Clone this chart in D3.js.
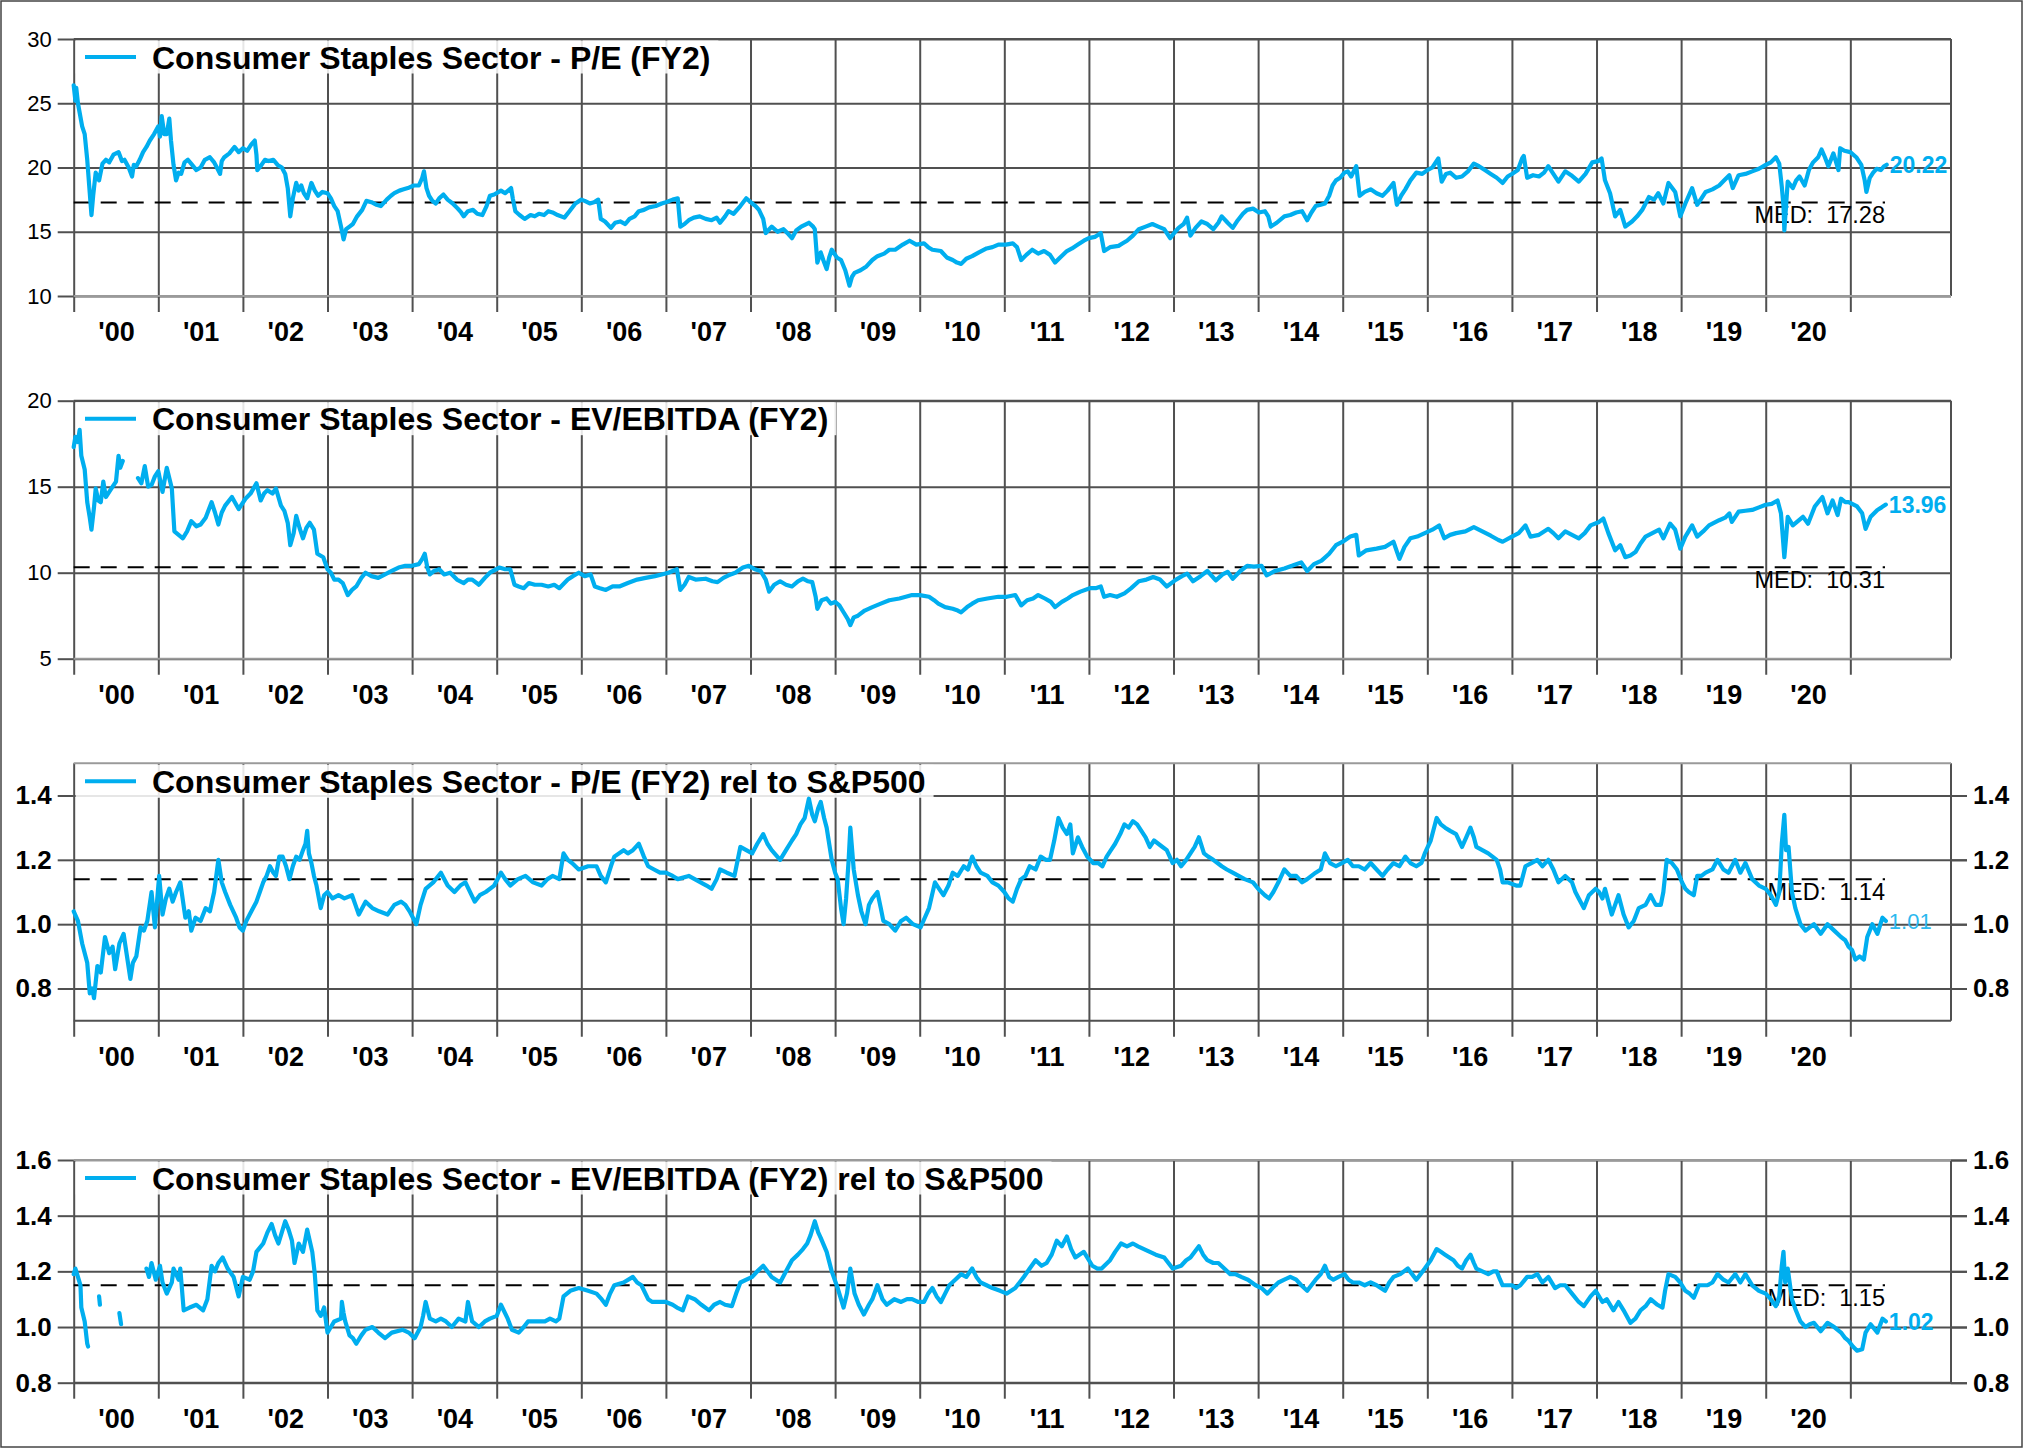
<!DOCTYPE html>
<html><head><meta charset="utf-8">
<script src="https://cdn.jsdelivr.net/npm/d3@7"></script>
<style>
body{margin:0;background:#fff}
svg{display:block}
text{font-family:"Liberation Sans",Arial,Helvetica,sans-serif}
</style>
</head><body>
<svg id="chart" width="2026" height="1448"></svg>
<script>
// ---------------- DATA ----------------
const yearLabels = ["'00","'01","'02","'03","'04","'05","'06","'07","'08","'09","'10","'11","'12","'13","'14","'15","'16","'17","'18","'19","'20"];
const titles = [
  "Consumer Staples Sector - P/E (FY2)",
  "Consumer Staples Sector - EV/EBITDA (FY2)",
  "Consumer Staples Sector - P/E (FY2) rel to S&P500",
  "Consumer Staples Sector - EV/EBITDA (FY2) rel to S&P500"
];
const medians = [17.28, 10.31, 1.14, 1.15];
const medianLabels = ["MED:  17.28","MED:  10.31","MED:  1.14","MED:  1.15"];
const lastLabels = ["20.22","13.96","1.01","1.02"];
const tickSets = [[10,15,20,25,30],[5,10,15,20],[0.8,1.0,1.2,1.4],[0.8,1.0,1.2,1.4,1.6]];

const peSeries = [[2000.00,26.4],[2000.02,25.2],[2000.03,26.2],[2000.05,25.0],[2000.10,23.2],[2000.13,22.6],[2000.16,20.6],[2000.19,18.0],[2000.21,16.3],[2000.23,17.8],[2000.26,19.6],[2000.30,19.0],[2000.34,20.3],[2000.38,20.6],[2000.42,20.4],[2000.47,21.0],[2000.53,21.2],[2000.57,20.5],[2000.60,20.6],[2000.65,20.0],[2000.69,19.3],[2000.71,20.2],[2000.74,20.1],[2000.78,20.6],[2000.82,21.2],[2000.86,21.6],[2000.90,22.1],[2000.95,22.6],[2001.00,23.2],[2001.02,22.4],[2001.04,24.0],[2001.07,22.6],[2001.10,22.6],[2001.13,23.8],[2001.15,22.1],[2001.18,20.2],[2001.21,19.0],[2001.24,19.6],[2001.27,19.5],[2001.31,20.4],[2001.35,20.6],[2001.40,20.2],[2001.45,19.8],[2001.50,20.0],[2001.55,20.6],[2001.61,20.8],[2001.66,20.4],[2001.70,19.9],[2001.73,19.5],[2001.75,20.5],[2001.78,20.8],[2001.84,21.1],[2001.90,21.6],[2001.95,21.2],[2002.00,21.5],[2002.05,21.3],[2002.10,21.8],[2002.14,22.1],[2002.16,21.0],[2002.17,19.8],[2002.22,20.2],[2002.26,20.6],[2002.30,20.5],[2002.36,20.6],[2002.41,20.2],[2002.46,20.0],[2002.50,19.5],[2002.53,18.4],[2002.56,16.2],[2002.59,17.6],[2002.63,18.8],[2002.66,18.2],[2002.69,18.6],[2002.72,18.0],[2002.76,17.6],[2002.81,18.8],[2002.85,18.2],[2002.89,17.8],[2002.94,18.1],[2003.00,18.0],[2003.04,17.6],[2003.08,17.0],[2003.12,16.6],[2003.16,15.4],[2003.19,14.4],[2003.22,15.2],[2003.26,15.4],[2003.30,15.6],[2003.35,16.2],[2003.41,16.7],[2003.46,17.4],[2003.52,17.3],[2003.58,17.1],[2003.63,17.0],[2003.70,17.5],[2003.75,17.8],[2003.79,18.0],[2003.85,18.2],[2003.90,18.3],[2003.95,18.4],[2004.02,18.6],[2004.08,18.6],[2004.12,19.2],[2004.14,19.7],[2004.17,18.4],[2004.20,17.8],[2004.24,17.4],[2004.28,17.2],[2004.32,17.6],[2004.37,17.9],[2004.42,17.5],[2004.48,17.2],[2004.54,16.8],[2004.58,16.5],[2004.61,16.2],[2004.66,16.6],[2004.72,16.7],[2004.77,16.4],[2004.83,16.3],[2004.88,17.0],[2004.92,17.8],[2004.97,17.9],[2005.05,18.2],[2005.10,18.0],[2005.17,18.4],[2005.19,17.6],[2005.22,16.6],[2005.27,16.3],[2005.33,16.0],[2005.40,16.3],[2005.45,16.2],[2005.50,16.4],[2005.56,16.3],[2005.61,16.6],[2005.66,16.5],[2005.72,16.3],[2005.80,16.1],[2005.86,16.6],[2005.93,17.2],[2006.00,17.5],[2006.04,17.4],[2006.10,17.2],[2006.15,17.3],[2006.20,17.5],[2006.23,16.0],[2006.28,15.8],[2006.35,15.3],[2006.40,15.7],[2006.46,15.8],[2006.52,15.6],[2006.57,16.0],[2006.63,16.2],[2006.68,16.6],[2006.74,16.7],[2006.80,16.9],[2006.88,17.0],[2006.95,17.2],[2007.00,17.3],[2007.08,17.5],[2007.14,17.6],[2007.17,15.4],[2007.22,15.6],[2007.27,15.9],[2007.33,16.1],[2007.40,16.2],[2007.47,16.0],[2007.54,15.9],[2007.60,16.1],[2007.64,15.7],[2007.70,16.2],[2007.74,16.6],[2007.80,16.4],[2007.88,17.0],[2007.95,17.6],[2008.02,17.2],[2008.06,17.0],[2008.10,16.7],[2008.15,16.0],[2008.18,14.9],[2008.25,15.4],[2008.32,15.0],[2008.39,15.2],[2008.45,14.8],[2008.49,14.5],[2008.54,15.1],[2008.60,15.4],[2008.69,15.7],[2008.74,15.4],[2008.76,15.2],[2008.79,12.6],[2008.83,13.4],[2008.86,12.8],[2008.90,12.1],[2008.93,13.0],[2008.96,13.6],[2009.02,13.0],[2009.07,12.8],[2009.12,12.0],[2009.17,10.8],[2009.20,11.5],[2009.23,11.8],[2009.30,12.0],[2009.37,12.3],[2009.44,12.8],[2009.50,13.1],[2009.58,13.3],[2009.64,13.6],[2009.71,13.6],[2009.80,14.0],[2009.88,14.3],[2009.96,14.0],[2010.05,14.1],[2010.10,13.8],[2010.15,13.6],[2010.25,13.5],[2010.32,13.0],[2010.39,12.8],[2010.44,12.6],[2010.49,12.5],[2010.55,12.9],[2010.62,13.1],[2010.70,13.4],[2010.79,13.7],[2010.86,13.8],[2010.93,14.0],[2011.02,14.0],[2011.10,14.1],[2011.15,13.8],[2011.20,12.8],[2011.26,13.2],[2011.33,13.6],[2011.40,13.3],[2011.47,13.5],[2011.54,13.2],[2011.60,12.6],[2011.66,13.0],[2011.74,13.5],[2011.80,13.7],[2011.87,14.0],[2011.94,14.3],[2012.00,14.5],[2012.07,14.6],[2012.14,14.9],[2012.18,13.5],[2012.25,13.8],[2012.35,13.9],[2012.40,14.1],[2012.45,14.3],[2012.52,14.7],[2012.59,15.2],[2012.67,15.4],[2012.75,15.6],[2012.82,15.4],[2012.89,15.2],[2012.96,14.5],[2013.02,15.0],[2013.06,15.3],[2013.12,15.6],[2013.16,16.1],[2013.20,14.7],[2013.26,15.3],[2013.33,15.8],[2013.40,15.6],[2013.47,15.2],[2013.53,15.7],[2013.57,16.2],[2013.64,15.7],[2013.70,15.3],[2013.76,15.9],[2013.82,16.4],[2013.87,16.7],[2013.94,16.8],[2014.01,16.5],[2014.08,16.6],[2014.12,16.2],[2014.15,15.4],[2014.22,15.7],[2014.31,16.2],[2014.38,16.3],[2014.45,16.5],[2014.52,16.6],[2014.58,15.9],[2014.63,16.5],[2014.68,17.0],[2014.74,17.1],[2014.79,17.2],[2014.84,17.8],[2014.88,18.6],[2014.92,19.0],[2014.97,19.2],[2015.02,19.6],[2015.06,19.7],[2015.10,19.3],[2015.16,20.1],[2015.20,17.8],[2015.26,18.1],[2015.33,18.3],[2015.40,18.0],[2015.47,17.8],[2015.53,18.2],[2015.60,18.8],[2015.64,17.1],[2015.69,17.8],[2015.74,18.3],[2015.80,19.0],[2015.87,19.6],[2015.94,19.5],[2016.00,19.8],[2016.06,20.0],[2016.13,20.7],[2016.17,18.9],[2016.22,19.5],[2016.27,19.6],[2016.34,19.2],[2016.41,19.3],[2016.48,19.7],[2016.55,20.3],[2016.61,20.1],[2016.68,19.8],[2016.75,19.5],[2016.82,19.2],[2016.89,18.8],[2016.95,19.3],[2017.00,19.5],[2017.07,19.8],[2017.12,20.7],[2017.14,20.9],[2017.18,19.2],[2017.25,19.4],[2017.32,19.3],[2017.38,19.6],[2017.43,20.1],[2017.49,19.5],[2017.55,18.9],[2017.63,19.7],[2017.70,19.4],[2017.79,18.9],[2017.87,19.5],[2017.95,20.4],[2018.02,20.5],[2018.06,20.7],[2018.10,19.0],[2018.16,18.0],[2018.22,16.2],[2018.28,16.7],[2018.34,15.4],[2018.38,15.6],[2018.42,15.8],[2018.48,16.2],[2018.54,16.7],[2018.58,17.2],[2018.62,17.7],[2018.68,17.5],[2018.73,18.0],[2018.79,17.2],[2018.85,18.8],[2018.93,18.1],[2018.99,16.2],[2019.05,17.2],[2019.13,18.4],[2019.19,17.1],[2019.24,17.6],[2019.29,18.1],[2019.37,18.3],[2019.45,18.6],[2019.51,19.0],[2019.57,19.4],[2019.61,18.4],[2019.68,19.4],[2019.76,19.5],[2019.84,19.7],[2019.92,19.9],[2020.00,20.2],[2020.06,20.4],[2020.12,20.8],[2020.16,20.3],[2020.19,18.5],[2020.21,17.0],[2020.22,15.1],[2020.24,17.0],[2020.26,18.9],[2020.32,18.4],[2020.36,19.0],[2020.40,19.3],[2020.46,18.6],[2020.51,19.8],[2020.56,20.4],[2020.62,20.8],[2020.66,21.4],[2020.70,20.8],[2020.74,20.1],[2020.80,21.1],[2020.86,19.8],[2020.88,21.5],[2020.93,21.3],[2021.00,21.2],[2021.07,20.8],[2021.13,20.2],[2021.17,19.0],[2021.19,18.1],[2021.23,19.2],[2021.27,19.6],[2021.31,19.9],[2021.36,19.8],[2021.40,20.1],[2021.43,20.22]];

const evSeries = [[2000.00,17.3],[2000.02,17.9],[2000.05,17.6],[2000.07,18.3],[2000.09,16.8],[2000.13,16.0],[2000.16,14.1],[2000.19,13.2],[2000.21,12.5],[2000.24,13.8],[2000.26,14.9],[2000.29,14.2],[2000.32,14.1],[2000.35,15.3],[2000.38,14.4],[2000.42,14.7],[2000.46,15.0],[2000.50,15.3],[2000.53,16.8],[2000.55,16.1],[2000.58,16.5],[2000.67,null],[2000.76,15.5],[2000.80,15.2],[2000.84,16.2],[2000.88,15.0],[2000.92,15.1],[2000.96,15.6],[2001.00,15.9],[2001.05,14.7],[2001.10,16.1],[2001.14,15.3],[2001.16,14.9],[2001.19,12.4],[2001.24,12.2],[2001.29,12.0],[2001.34,12.4],[2001.39,13.0],[2001.45,12.7],[2001.50,12.8],[2001.56,13.2],[2001.63,14.1],[2001.67,13.5],[2001.71,12.8],[2001.75,13.5],[2001.79,13.9],[2001.87,14.4],[2001.95,13.7],[2002.03,14.3],[2002.09,14.6],[2002.16,15.2],[2002.21,14.2],[2002.25,14.6],[2002.29,14.8],[2002.35,14.6],[2002.39,14.9],[2002.45,13.9],[2002.49,13.6],[2002.53,12.9],[2002.56,11.6],[2002.60,12.3],[2002.63,13.3],[2002.67,12.6],[2002.71,12.0],[2002.75,12.6],[2002.79,12.9],[2002.84,12.5],[2002.88,11.1],[2002.95,10.9],[2003.00,10.2],[2003.04,10.0],[2003.08,9.6],[2003.13,9.6],[2003.18,9.4],[2003.24,8.7],[2003.29,9.0],[2003.34,9.2],[2003.40,9.7],[2003.45,10.0],[2003.52,9.8],[2003.60,9.7],[2003.68,9.9],[2003.76,10.1],[2003.84,10.3],[2003.92,10.4],[2004.00,10.4],[2004.08,10.5],[2004.12,10.8],[2004.15,11.1],[2004.18,10.3],[2004.21,9.9],[2004.26,10.1],[2004.32,10.2],[2004.38,9.9],[2004.45,10.0],[2004.53,9.6],[2004.61,9.4],[2004.66,9.6],[2004.71,9.6],[2004.79,9.3],[2004.86,9.7],[2004.92,10.0],[2005.03,10.3],[2005.10,10.2],[2005.16,10.2],[2005.21,9.3],[2005.26,9.2],[2005.32,9.1],[2005.38,9.4],[2005.45,9.3],[2005.53,9.3],[2005.61,9.2],[2005.68,9.3],[2005.74,9.1],[2005.80,9.4],[2005.84,9.6],[2005.90,9.8],[2005.97,10.0],[2006.04,9.8],[2006.11,9.9],[2006.16,9.2],[2006.22,9.1],[2006.29,9.0],[2006.37,9.2],[2006.45,9.2],[2006.55,9.4],[2006.66,9.6],[2006.76,9.7],[2006.87,9.8],[2006.95,9.9],[2007.03,10.0],[2007.13,10.2],[2007.17,9.0],[2007.22,9.3],[2007.27,9.75],[2007.35,9.6],[2007.47,9.65],[2007.55,9.5],[2007.61,9.45],[2007.68,9.7],[2007.74,9.85],[2007.82,10.0],[2007.91,10.3],[2007.98,10.4],[2008.05,10.2],[2008.12,10.1],[2008.18,9.6],[2008.22,8.9],[2008.28,9.3],[2008.35,9.5],[2008.42,9.3],[2008.49,9.2],[2008.56,9.5],[2008.62,9.65],[2008.68,9.5],[2008.73,9.45],[2008.77,8.6],[2008.79,7.9],[2008.84,8.4],[2008.90,8.5],[2008.95,8.2],[2009.00,8.3],[2009.05,8.1],[2009.10,7.7],[2009.15,7.3],[2009.18,6.95],[2009.22,7.4],[2009.27,7.5],[2009.35,7.8],[2009.44,8.0],[2009.54,8.2],[2009.64,8.4],[2009.76,8.5],[2009.91,8.7],[2010.00,8.7],[2010.11,8.6],[2010.17,8.4],[2010.22,8.2],[2010.30,8.0],[2010.39,7.9],[2010.45,7.8],[2010.49,7.7],[2010.56,8.0],[2010.62,8.2],[2010.69,8.4],[2010.80,8.5],[2010.93,8.6],[2011.03,8.6],[2011.13,8.7],[2011.20,8.1],[2011.27,8.4],[2011.34,8.5],[2011.40,8.7],[2011.48,8.5],[2011.55,8.3],[2011.60,8.0],[2011.68,8.3],[2011.75,8.5],[2011.81,8.7],[2011.90,8.9],[2012.01,9.1],[2012.08,9.1],[2012.14,9.2],[2012.18,8.6],[2012.25,8.7],[2012.33,8.6],[2012.42,8.8],[2012.50,9.1],[2012.59,9.5],[2012.68,9.6],[2012.76,9.75],[2012.84,9.6],[2012.92,9.2],[2013.03,9.6],[2013.10,9.8],[2013.16,9.95],[2013.23,9.5],[2013.32,9.8],[2013.40,10.1],[2013.50,9.55],[2013.58,9.9],[2013.64,10.05],[2013.70,9.65],[2013.79,10.1],[2013.87,10.4],[2013.95,10.35],[2014.04,10.4],[2014.10,9.85],[2014.20,10.1],[2014.31,10.25],[2014.40,10.4],[2014.51,10.6],[2014.58,10.1],[2014.66,10.5],[2014.75,10.7],[2014.84,11.1],[2014.92,11.6],[2015.00,11.8],[2015.09,12.1],[2015.16,12.2],[2015.19,11.0],[2015.28,11.3],[2015.40,11.4],[2015.50,11.5],[2015.60,11.8],[2015.67,10.8],[2015.73,11.5],[2015.80,12.0],[2015.88,12.1],[2015.97,12.3],[2016.06,12.5],[2016.14,12.75],[2016.20,12.0],[2016.27,12.2],[2016.34,12.3],[2016.45,12.4],[2016.55,12.65],[2016.65,12.4],[2016.75,12.15],[2016.84,11.9],[2016.89,11.8],[2017.00,12.1],[2017.08,12.3],[2017.16,12.75],[2017.22,12.1],[2017.32,12.2],[2017.43,12.55],[2017.49,12.3],[2017.55,12.0],[2017.63,12.4],[2017.71,12.2],[2017.79,12.0],[2017.86,12.3],[2017.93,12.75],[2018.03,12.95],[2018.08,13.15],[2018.14,12.3],[2018.22,11.3],[2018.28,11.6],[2018.34,10.9],[2018.40,11.0],[2018.46,11.2],[2018.52,11.7],[2018.58,12.1],[2018.66,12.3],[2018.74,12.5],[2018.79,12.0],[2018.87,12.85],[2018.93,12.5],[2018.99,11.4],[2019.05,12.1],[2019.13,12.75],[2019.19,12.1],[2019.26,12.4],[2019.33,12.75],[2019.45,13.05],[2019.52,13.2],[2019.57,13.45],[2019.60,12.95],[2019.68,13.55],[2019.76,13.6],[2019.84,13.65],[2019.92,13.8],[2020.00,13.95],[2020.07,14.0],[2020.14,14.2],[2020.18,13.45],[2020.20,12.2],[2020.22,10.9],[2020.24,12.0],[2020.26,13.25],[2020.32,12.75],[2020.38,13.0],[2020.44,13.25],[2020.50,12.85],[2020.58,13.85],[2020.62,14.1],[2020.67,14.4],[2020.73,13.45],[2020.79,14.2],[2020.85,13.35],[2020.89,14.3],[2020.94,14.1],[2020.98,14.1],[2021.08,13.85],[2021.14,13.45],[2021.18,12.55],[2021.24,13.25],[2021.32,13.65],[2021.37,13.8],[2021.42,13.96]];

const peRelSeries = [[2000.00,1.04],[2000.05,1.01],[2000.10,0.94],[2000.16,0.88],[2000.19,0.785],[2000.22,0.80],[2000.24,0.77],[2000.28,0.87],[2000.32,0.85],[2000.37,0.96],[2000.42,0.91],[2000.46,0.93],[2000.49,0.86],[2000.54,0.94],[2000.59,0.97],[2000.63,0.90],[2000.67,0.83],[2000.70,0.88],[2000.74,0.90],[2000.79,0.99],[2000.83,0.98],[2000.87,1.01],[2000.92,1.10],[2000.96,0.99],[2001.01,1.15],[2001.05,1.03],[2001.09,1.08],[2001.13,1.11],[2001.17,1.07],[2001.21,1.10],[2001.26,1.13],[2001.32,1.02],[2001.36,1.04],[2001.39,0.98],[2001.44,1.02],[2001.50,1.01],[2001.56,1.05],[2001.61,1.04],[2001.66,1.10],[2001.71,1.20],[2001.75,1.13],[2001.79,1.10],[2001.85,1.06],[2001.92,1.02],[2001.96,0.99],[2002.00,0.98],[2002.04,1.01],[2002.08,1.03],[2002.16,1.07],[2002.20,1.10],[2002.24,1.13],[2002.28,1.15],[2002.32,1.18],[2002.36,1.16],[2002.39,1.15],[2002.43,1.21],[2002.47,1.21],[2002.51,1.18],[2002.55,1.14],[2002.59,1.18],[2002.63,1.21],[2002.67,1.20],[2002.71,1.23],[2002.74,1.25],[2002.76,1.29],[2002.78,1.22],[2002.81,1.19],[2002.84,1.15],[2002.87,1.12],[2002.92,1.05],[2002.96,1.09],[2003.00,1.10],[2003.06,1.08],[2003.13,1.09],[2003.20,1.08],[2003.29,1.09],[2003.33,1.06],[2003.37,1.03],[2003.45,1.07],[2003.53,1.05],[2003.61,1.04],[2003.71,1.03],[2003.79,1.06],[2003.87,1.07],[2003.92,1.06],[2003.97,1.04],[2004.05,1.00],[2004.10,1.06],[2004.16,1.11],[2004.25,1.13],[2004.34,1.16],[2004.42,1.12],[2004.50,1.10],[2004.57,1.12],[2004.63,1.13],[2004.74,1.07],[2004.80,1.09],[2004.87,1.10],[2004.97,1.12],[2005.05,1.16],[2005.10,1.14],[2005.16,1.12],[2005.25,1.14],[2005.34,1.15],[2005.43,1.13],[2005.53,1.12],[2005.60,1.14],[2005.66,1.15],[2005.74,1.14],[2005.79,1.22],[2005.84,1.20],[2005.89,1.19],[2005.97,1.17],[2006.08,1.18],[2006.18,1.18],[2006.23,1.15],[2006.29,1.13],[2006.35,1.18],[2006.39,1.21],[2006.50,1.23],[2006.55,1.22],[2006.61,1.23],[2006.68,1.25],[2006.74,1.21],[2006.79,1.18],[2006.86,1.17],[2006.93,1.16],[2007.00,1.16],[2007.08,1.15],[2007.14,1.14],[2007.27,1.15],[2007.34,1.14],[2007.41,1.13],[2007.48,1.12],[2007.54,1.11],[2007.60,1.14],[2007.64,1.17],[2007.72,1.16],[2007.81,1.15],[2007.88,1.24],[2007.95,1.23],[2008.02,1.22],[2008.08,1.25],[2008.15,1.28],[2008.20,1.25],[2008.25,1.23],[2008.35,1.20],[2008.42,1.23],[2008.49,1.26],[2008.54,1.28],[2008.59,1.31],[2008.64,1.33],[2008.69,1.39],[2008.73,1.34],[2008.76,1.32],[2008.80,1.36],[2008.83,1.38],[2008.87,1.33],[2008.90,1.30],[2008.96,1.20],[2009.00,1.16],[2009.03,1.14],[2009.07,1.05],[2009.10,1.00],[2009.13,1.08],[2009.16,1.20],[2009.18,1.30],[2009.22,1.17],[2009.27,1.09],[2009.31,1.04],[2009.36,1.00],[2009.40,1.06],[2009.44,1.08],[2009.50,1.10],[2009.54,1.05],[2009.57,1.01],[2009.64,1.00],[2009.71,0.98],[2009.78,1.01],[2009.84,1.02],[2009.92,1.00],[2010.01,0.99],[2010.06,1.02],[2010.11,1.05],[2010.18,1.13],[2010.23,1.11],[2010.28,1.09],[2010.34,1.12],[2010.39,1.16],[2010.45,1.15],[2010.52,1.18],[2010.57,1.17],[2010.62,1.21],[2010.67,1.18],[2010.72,1.16],[2010.80,1.15],[2010.86,1.13],[2010.93,1.12],[2011.00,1.10],[2011.05,1.08],[2011.10,1.07],[2011.15,1.11],[2011.20,1.14],[2011.25,1.15],[2011.30,1.18],[2011.37,1.17],[2011.43,1.21],[2011.49,1.20],[2011.54,1.20],[2011.59,1.26],[2011.64,1.33],[2011.69,1.30],[2011.74,1.28],[2011.78,1.31],[2011.81,1.22],[2011.87,1.27],[2011.92,1.24],[2011.98,1.21],[2012.05,1.19],[2012.11,1.19],[2012.16,1.18],[2012.21,1.21],[2012.26,1.23],[2012.31,1.25],[2012.37,1.28],[2012.42,1.31],[2012.47,1.30],[2012.52,1.32],[2012.57,1.31],[2012.62,1.29],[2012.67,1.27],[2012.72,1.24],[2012.77,1.26],[2012.82,1.25],[2012.87,1.24],[2012.92,1.23],[2012.99,1.19],[2013.04,1.20],[2013.09,1.18],[2013.15,1.20],[2013.20,1.22],[2013.25,1.24],[2013.30,1.27],[2013.36,1.22],[2013.41,1.21],[2013.47,1.20],[2013.52,1.19],[2013.57,1.18],[2013.63,1.17],[2013.70,1.16],[2013.77,1.15],[2013.84,1.14],[2013.94,1.13],[2014.00,1.11],[2014.08,1.09],[2014.13,1.08],[2014.18,1.10],[2014.24,1.13],[2014.31,1.17],[2014.38,1.15],[2014.45,1.15],[2014.52,1.13],[2014.58,1.14],[2014.68,1.16],[2014.74,1.17],[2014.79,1.22],[2014.85,1.19],[2014.92,1.18],[2014.99,1.19],[2015.06,1.20],[2015.12,1.18],[2015.19,1.18],[2015.26,1.17],[2015.33,1.19],[2015.40,1.17],[2015.47,1.15],[2015.53,1.17],[2015.60,1.19],[2015.67,1.18],[2015.74,1.21],[2015.80,1.19],[2015.87,1.18],[2015.93,1.19],[2015.97,1.22],[2016.04,1.26],[2016.11,1.33],[2016.16,1.31],[2016.21,1.30],[2016.27,1.29],[2016.34,1.28],[2016.41,1.24],[2016.46,1.27],[2016.51,1.30],[2016.55,1.27],[2016.58,1.24],[2016.65,1.23],[2016.72,1.22],[2016.77,1.21],[2016.82,1.20],[2016.86,1.17],[2016.89,1.13],[2016.95,1.13],[2017.05,1.12],[2017.10,1.12],[2017.16,1.18],[2017.23,1.19],[2017.30,1.20],[2017.36,1.18],[2017.43,1.20],[2017.49,1.17],[2017.55,1.13],[2017.63,1.15],[2017.71,1.13],[2017.75,1.10],[2017.79,1.08],[2017.85,1.05],[2017.91,1.09],[2017.99,1.11],[2018.03,1.10],[2018.07,1.08],[2018.10,1.11],[2018.14,1.07],[2018.18,1.03],[2018.22,1.06],[2018.26,1.09],[2018.32,1.03],[2018.38,0.99],[2018.44,1.01],[2018.50,1.05],[2018.58,1.06],[2018.64,1.09],[2018.70,1.06],[2018.76,1.06],[2018.79,1.10],[2018.83,1.20],[2018.89,1.19],[2018.95,1.17],[2019.01,1.13],[2019.05,1.11],[2019.09,1.10],[2019.15,1.09],[2019.19,1.15],[2019.24,1.15],[2019.29,1.16],[2019.37,1.17],[2019.43,1.20],[2019.50,1.17],[2019.56,1.16],[2019.64,1.20],[2019.70,1.16],[2019.76,1.19],[2019.84,1.14],[2019.92,1.12],[2020.00,1.11],[2020.06,1.09],[2020.12,1.06],[2020.16,1.10],[2020.19,1.25],[2020.22,1.34],[2020.24,1.23],[2020.27,1.24],[2020.31,1.10],[2020.35,1.05],[2020.41,1.00],[2020.47,0.98],[2020.52,0.99],[2020.57,1.00],[2020.65,0.97],[2020.73,1.00],[2020.81,0.98],[2020.89,0.96],[2020.94,0.95],[2020.98,0.93],[2021.02,0.92],[2021.06,0.89],[2021.11,0.90],[2021.16,0.89],[2021.20,0.96],[2021.26,1.00],[2021.32,0.97],[2021.38,1.02],[2021.42,1.01]];

const evRelSeries = [[2000.00,1.19],[2000.02,1.21],[2000.05,1.18],[2000.08,1.15],[2000.09,1.07],[2000.13,1.02],[2000.16,0.94],[2000.17,0.93],[2000.23,null],[2000.30,1.11],[2000.31,1.08],[2000.42,null],[2000.54,1.05],[2000.56,1.01],[2000.70,null],[2000.86,1.21],[2000.89,1.18],[2000.92,1.23],[2000.97,1.17],[2001.02,1.22],[2001.05,1.16],[2001.10,1.12],[2001.16,1.16],[2001.18,1.21],[2001.24,1.17],[2001.26,1.21],[2001.30,1.06],[2001.37,1.07],[2001.45,1.08],[2001.53,1.06],[2001.58,1.10],[2001.63,1.22],[2001.67,1.20],[2001.71,1.23],[2001.76,1.25],[2001.82,1.21],[2001.89,1.18],[2001.95,1.11],[2002.00,1.18],[2002.08,1.17],[2002.12,1.20],[2002.16,1.27],[2002.24,1.30],[2002.29,1.34],[2002.34,1.37],[2002.38,1.33],[2002.42,1.30],[2002.46,1.34],[2002.50,1.38],[2002.54,1.35],[2002.58,1.31],[2002.61,1.23],[2002.66,1.30],[2002.71,1.27],[2002.76,1.35],[2002.82,1.27],[2002.85,1.19],[2002.88,1.06],[2002.92,1.04],[2002.96,1.07],[2003.00,0.98],[2003.04,1.00],[2003.08,1.02],[2003.16,1.03],[2003.17,1.09],[2003.19,1.05],[2003.21,1.02],[2003.26,0.97],[2003.30,0.96],[2003.34,0.94],[2003.40,0.97],[2003.45,0.99],[2003.53,1.00],[2003.60,0.98],[2003.68,0.96],[2003.76,0.98],[2003.89,0.99],[2003.96,0.98],[2004.03,0.96],[2004.10,1.00],[2004.13,1.04],[2004.16,1.09],[2004.21,1.03],[2004.28,1.02],[2004.34,1.03],[2004.40,1.02],[2004.47,1.00],[2004.55,1.03],[2004.63,1.02],[2004.66,1.09],[2004.71,1.02],[2004.79,1.00],[2004.86,1.02],[2004.92,1.03],[2005.00,1.04],[2005.05,1.08],[2005.13,1.03],[2005.18,0.99],[2005.26,0.98],[2005.32,1.00],[2005.37,1.02],[2005.44,1.02],[2005.50,1.02],[2005.57,1.02],[2005.63,1.03],[2005.70,1.02],[2005.74,1.03],[2005.79,1.11],[2005.87,1.13],[2005.97,1.14],[2006.08,1.13],[2006.18,1.12],[2006.24,1.10],[2006.29,1.08],[2006.34,1.12],[2006.39,1.15],[2006.50,1.16],[2006.61,1.18],[2006.66,1.16],[2006.71,1.15],[2006.79,1.10],[2006.84,1.09],[2006.90,1.09],[2007.00,1.09],[2007.08,1.08],[2007.13,1.07],[2007.20,1.06],[2007.26,1.11],[2007.34,1.10],[2007.42,1.08],[2007.51,1.06],[2007.57,1.08],[2007.64,1.09],[2007.70,1.08],[2007.78,1.075],[2007.83,1.12],[2007.88,1.16],[2008.02,1.18],[2008.08,1.20],[2008.15,1.22],[2008.20,1.20],[2008.25,1.18],[2008.35,1.16],[2008.42,1.20],[2008.49,1.24],[2008.56,1.26],[2008.62,1.28],[2008.67,1.30],[2008.71,1.33],[2008.76,1.38],[2008.80,1.34],[2008.83,1.32],[2008.90,1.27],[2008.96,1.20],[2009.03,1.14],[2009.10,1.07],[2009.14,1.12],[2009.18,1.21],[2009.23,1.12],[2009.28,1.08],[2009.34,1.045],[2009.40,1.08],[2009.44,1.10],[2009.50,1.15],[2009.56,1.10],[2009.61,1.08],[2009.70,1.10],[2009.78,1.09],[2009.85,1.10],[2009.91,1.10],[2009.98,1.09],[2010.05,1.09],[2010.10,1.12],[2010.15,1.14],[2010.20,1.11],[2010.25,1.09],[2010.30,1.12],[2010.35,1.15],[2010.42,1.17],[2010.49,1.19],[2010.55,1.18],[2010.62,1.21],[2010.67,1.18],[2010.72,1.16],[2010.79,1.15],[2010.86,1.14],[2010.95,1.13],[2011.03,1.12],[2011.08,1.13],[2011.13,1.14],[2011.23,1.18],[2011.30,1.21],[2011.37,1.24],[2011.44,1.22],[2011.50,1.23],[2011.56,1.26],[2011.62,1.31],[2011.68,1.29],[2011.74,1.325],[2011.79,1.28],[2011.84,1.25],[2011.94,1.27],[2012.04,1.22],[2012.10,1.21],[2012.15,1.21],[2012.25,1.24],[2012.31,1.27],[2012.38,1.30],[2012.45,1.29],[2012.52,1.30],[2012.58,1.29],[2012.65,1.28],[2012.72,1.27],[2012.79,1.26],[2012.89,1.25],[2012.99,1.21],[2013.09,1.22],[2013.15,1.24],[2013.20,1.25],[2013.30,1.29],[2013.35,1.26],[2013.40,1.24],[2013.47,1.23],[2013.53,1.23],[2013.60,1.21],[2013.67,1.19],[2013.73,1.19],[2013.80,1.18],[2013.88,1.17],[2013.97,1.15],[2014.04,1.14],[2014.11,1.12],[2014.17,1.14],[2014.24,1.16],[2014.31,1.17],[2014.38,1.18],[2014.45,1.17],[2014.51,1.15],[2014.58,1.13],[2014.63,1.15],[2014.68,1.17],[2014.74,1.19],[2014.79,1.22],[2014.84,1.18],[2014.89,1.17],[2014.95,1.18],[2015.02,1.19],[2015.07,1.17],[2015.12,1.16],[2015.19,1.16],[2015.26,1.15],[2015.33,1.16],[2015.40,1.15],[2015.45,1.14],[2015.50,1.13],[2015.55,1.16],[2015.60,1.18],[2015.68,1.19],[2015.77,1.21],[2015.82,1.19],[2015.87,1.17],[2015.92,1.19],[2015.97,1.21],[2016.04,1.24],[2016.11,1.28],[2016.16,1.27],[2016.21,1.26],[2016.26,1.25],[2016.31,1.24],[2016.36,1.22],[2016.41,1.21],[2016.46,1.24],[2016.51,1.26],[2016.55,1.23],[2016.58,1.21],[2016.65,1.20],[2016.72,1.19],[2016.78,1.20],[2016.82,1.20],[2016.86,1.17],[2016.89,1.15],[2017.00,1.15],[2017.05,1.14],[2017.10,1.15],[2017.18,1.18],[2017.24,1.18],[2017.30,1.19],[2017.36,1.16],[2017.43,1.18],[2017.51,1.14],[2017.57,1.15],[2017.63,1.15],[2017.71,1.12],[2017.79,1.09],[2017.85,1.075],[2017.93,1.11],[2017.99,1.13],[2018.07,1.09],[2018.12,1.10],[2018.20,1.06],[2018.26,1.09],[2018.32,1.06],[2018.40,1.015],[2018.46,1.03],[2018.52,1.06],[2018.58,1.075],[2018.64,1.10],[2018.72,1.08],[2018.78,1.07],[2018.81,1.13],[2018.85,1.19],[2018.93,1.18],[2018.99,1.16],[2019.05,1.13],[2019.10,1.12],[2019.15,1.105],[2019.21,1.15],[2019.31,1.15],[2019.37,1.16],[2019.43,1.19],[2019.50,1.17],[2019.56,1.16],[2019.64,1.19],[2019.70,1.16],[2019.76,1.19],[2019.84,1.15],[2019.92,1.13],[2020.00,1.12],[2020.06,1.10],[2020.12,1.075],[2020.16,1.11],[2020.19,1.22],[2020.21,1.27],[2020.23,1.16],[2020.26,1.21],[2020.31,1.10],[2020.35,1.065],[2020.41,1.02],[2020.47,1.00],[2020.52,1.01],[2020.57,1.015],[2020.65,0.985],[2020.73,1.015],[2020.81,1.00],[2020.89,0.98],[2020.94,0.96],[2020.98,0.95],[2021.03,0.93],[2021.08,0.915],[2021.14,0.92],[2021.18,0.98],[2021.24,1.01],[2021.32,0.98],[2021.38,1.03],[2021.42,1.02]];

// ---------------- LAYOUT / STYLE ----------------
const LINE = "#00AEEF", GRID = "#505050", LIGHT = "#9a9a9a";
const X0 = 73.7, X1 = 1951, MED_END = 1885;
const x = d3.scaleLinear().domain([2000, 2022.19]).range([X0, X1]);

const panels = [
  {data: peSeries,    domain:[10,30],   top:39,    bottom:296,    fmt:d3.format("d"),   right:false, bold:false, topLight:false, botLight:true,  lastBold:true},
  {data: evSeries,    domain:[5,20],    top:400.7, bottom:658.7,  fmt:d3.format("d"),   right:false, bold:false, topLight:false, botLight:true,  lastBold:true},
  {data: peRelSeries, domain:[0.7,1.5], top:763.3, bottom:1020.7, fmt:d3.format(".1f"), right:true,  bold:true,  topLight:true,  botLight:false, lastBold:false},
  {data: evRelSeries, domain:[0.8,1.6], top:1160,  bottom:1382.7, fmt:d3.format(".1f"), right:true,  bold:true,  topLight:true,  botLight:false, lastBold:true}
];

const svg = d3.select("#chart");
svg.append("rect").attr("width",2026).attr("height",1448).attr("fill","#fff");

panels.forEach((p, i) => {
  const y = d3.scaleLinear().domain(p.domain).range([p.bottom, p.top]);
  const g = svg.append("g");

  // left ticks/labels
  const gl = g.append("g").attr("transform", `translate(${X0},0)`)
    .call(d3.axisLeft(y).tickValues(tickSets[i]).tickSize(16).tickPadding(6).tickFormat(p.fmt));
  gl.select(".domain").remove();
  gl.selectAll(".tick line").attr("stroke", GRID).attr("stroke-width", 2);
  gl.selectAll(".tick text").attr("fill","#000")
    .style("font-size", p.bold ? "26px" : "22px")
    .style("font-weight", p.bold ? "bold" : "normal")
    .style("font-family", '"Liberation Sans", Arial, sans-serif');

  // horizontal gridlines
  const gg = g.append("g").attr("transform", `translate(${X0},0)`)
    .call(d3.axisRight(y).tickValues(tickSets[i]).tickSize(X1 - X0 + (p.right ? 16 : 0)).tickFormat(""));
  gg.select(".domain").remove();
  gg.selectAll(".tick line").attr("stroke", GRID).attr("stroke-width", 2);

  if (p.right) {
    const gr = g.append("g").attr("transform", `translate(${X1},0)`)
      .call(d3.axisRight(y).tickValues(tickSets[i]).tickSize(16).tickPadding(6).tickFormat(p.fmt));
    gr.select(".domain").remove();
    gr.selectAll(".tick line").attr("stroke", GRID).attr("stroke-width", 2);
    gr.selectAll(".tick text").attr("fill","#000")
      .style("font-size","26px").style("font-weight","bold")
      .style("font-family", '"Liberation Sans", Arial, sans-serif');
  }

  // vertical year lines (extend 16px below plot as ticks)
  const gv = g.append("g").attr("transform", `translate(0,${p.bottom + 16})`)
    .call(d3.axisBottom(x).tickValues(d3.range(2000, 2022)).tickSize(-(p.bottom + 16 - p.top)).tickFormat(""));
  gv.select(".domain").remove();
  gv.selectAll(".tick line").attr("stroke", GRID).attr("stroke-width", 2);

  // year labels centred mid-year
  const gx = g.append("g").attr("transform", `translate(0,${p.bottom + 45})`)
    .call(d3.axisBottom(x).tickValues(d3.range(2000.5, 2021)).tickSize(0).tickPadding(0).tickFormat((d, k) => yearLabels[k]));
  gx.select(".domain").remove();
  gx.selectAll(".tick text").attr("y", 0).attr("dy", 0).attr("fill","#000")
    .style("font-size","27px").style("font-weight","bold")
    .style("font-family", '"Liberation Sans", Arial, sans-serif');

  // frame
  g.append("line").attr("x1", X1).attr("x2", X1).attr("y1", p.top).attr("y2", p.bottom)
    .attr("stroke", GRID).attr("stroke-width", 2);
  g.append("line").attr("x1", X0).attr("x2", X1).attr("y1", p.top).attr("y2", p.top)
    .attr("stroke", p.topLight ? LIGHT : GRID).attr("stroke-width", 2);
  g.append("line").attr("x1", X0).attr("x2", X1).attr("y1", p.bottom).attr("y2", p.bottom)
    .attr("stroke", p.botLight ? LIGHT : GRID).attr("stroke-width", 2);

  // legend background
  const legBg = g.append("rect").attr("x", X0 + 2).attr("y", p.top + 1.5).attr("height", 33)
    .attr("fill", "#fff").attr("fill-opacity", 0.86);

  // median line + label
  const my = y(medians[i]);
  g.append("line").attr("x1", X0).attr("x2", MED_END).attr("y1", my).attr("y2", my)
    .attr("stroke", "#000").attr("stroke-width", 2).attr("stroke-dasharray", "16,11");
  g.append("text").attr("x", MED_END).attr("y", my + 21).attr("text-anchor", "end")
    .style("white-space", "pre").style("font-size", "23.5px").attr("fill", "#000")
    .text(medianLabels[i]);

  // data line
  const line = d3.line().defined(d => d[1] != null).x(d => x(d[0])).y(d => y(d[1]));
  g.append("path").datum(p.data).attr("d", line).attr("fill", "none")
    .attr("stroke", LINE).attr("stroke-width", 4.2)
    .attr("stroke-linejoin", "round").attr("stroke-linecap", "round");

  // last value label
  const last = p.data[p.data.length - 1];
  g.append("text").attr("x", x(last[0]) + 3).attr("y", y(last[1])).attr("dy", "0.36em")
    .attr("fill", p.lastBold ? LINE : "#2bb8ee")
    .style("font-size", p.lastBold ? "23px" : "22px")
    .style("font-weight", p.lastBold ? "bold" : "normal")
    .text(lastLabels[i]);

  // legend sample + title
  g.append("line").attr("x1", 85).attr("x2", 136).attr("y1", p.top + 18).attr("y2", p.top + 18)
    .attr("stroke", LINE).attr("stroke-width", 4);
  const t = g.append("text").attr("x", 152).attr("y", p.top + 29.5)
    .style("font-size", "32px").style("font-weight", "bold").attr("fill", "#000")
    .text(titles[i]);
  const tw = t.node().getComputedTextLength();
  legBg.attr("width", 152 + tw + 8 - (X0 + 2));
});

// outer border
svg.append("rect").attr("x", 1).attr("y", 1).attr("width", 2021).attr("height", 1446)
  .attr("fill", "none").attr("stroke", "#444").attr("stroke-width", 1.5);
</script>
</body></html>
